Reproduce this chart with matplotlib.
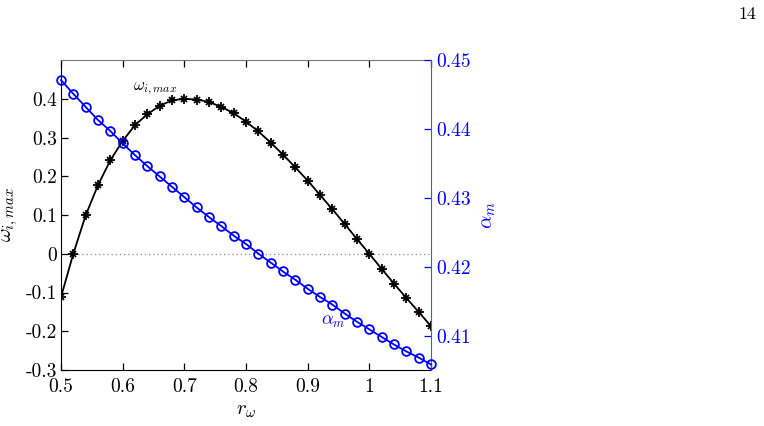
import matplotlib
matplotlib.use("Agg")
import matplotlib.pyplot as plt
import numpy as np

plt.rcParams['font.family'] = ['cmr10', 'DejaVu Serif']
plt.rcParams['mathtext.fontset'] = 'cm'
plt.rcParams['axes.unicode_minus'] = False

r_omega = [0.50, 0.52, 0.54, 0.56, 0.58, 0.60, 0.62, 0.64, 0.66, 0.68, 0.70,
           0.72, 0.74, 0.76, 0.78, 0.80, 0.82, 0.84, 0.86, 0.88, 0.90,
           0.92, 0.94, 0.96, 0.98, 1.00, 1.02, 1.04, 1.06, 1.08, 1.10]
omega_imax = [-0.112, 0.000, 0.099, 0.177, 0.241, 0.291, 0.332, 0.360, 0.382, 0.396, 0.400,
              0.398, 0.392, 0.379, 0.363, 0.341, 0.316, 0.287, 0.256, 0.223, 0.189,
              0.152, 0.115, 0.077, 0.038, 0.000, -0.039, -0.077, -0.114, -0.150, -0.187]
alpha_m = [0.4471, 0.4451, 0.4432, 0.4413, 0.4397, 0.4379, 0.4362, 0.4346, 0.4331, 0.4316, 0.4301,
           0.4286, 0.4272, 0.4259, 0.4245, 0.4233, 0.4219, 0.4206, 0.4193, 0.4181, 0.4168,
           0.4156, 0.4145, 0.4132, 0.4120, 0.4109, 0.4098, 0.4087, 0.4077, 0.4068, 0.4058]

x_ticks = [0.5, 0.6, 0.7, 0.8, 0.9, 1.0, 1.1]
x_ticklabels = ['0.5', '0.6', '0.7', '0.8', '0.9', '1', '1.1']
yl_ticks = [-0.3, -0.2, -0.1, 0.0, 0.1, 0.2, 0.3, 0.4]
yl_ticklabels = ['-0.3', '-0.2', '-0.1', '0', '0.1', '0.2', '0.3', '0.4']
yr_ticks = [0.41, 0.42, 0.43, 0.44, 0.45]
yr_ticklabels = ['0.41', '0.42', '0.43', '0.44', '0.45']

blue = '#0000ff'
fig = plt.figure(figsize=(7.64, 4.26), dpi=100)
ax = fig.add_axes([0.0798, 0.1315, 0.4843, 0.7275])
ax.set_xlim(0.5, 1.1)
ax.set_ylim(-0.3, 0.5)
ax.axhline(0, color='#999999', lw=1.0, ls=(0, (1, 2)), zorder=1)
ax.plot(r_omega, omega_imax, color='black', lw=1.3, zorder=3)
ax.plot(r_omega, omega_imax, ls='none', marker='+', ms=6.5, mec='black', mew=1.3, zorder=4)
ax.plot(r_omega, omega_imax, ls='none', marker='x', ms=5, mec='black', mew=1.3, zorder=4)
ax.set_xticks(x_ticks)
ax.set_xticklabels(x_ticklabels)
ax.set_yticks(yl_ticks)
ax.set_yticklabels(yl_ticklabels)
ax.tick_params(direction='in', length=5, labelsize=14, top=True, right=False, width=0.9)
ax.tick_params(axis='x', pad=6)
ax.tick_params(axis='y', pad=3)
for s in ['left', 'bottom']:
    ax.spines[s].set_color('black')
ax.spines['top'].set_color('#777777')
ax.spines['right'].set_visible(False)
ax.set_xlabel(r'$r_\omega$', fontsize=15)
ax.xaxis.set_label_coords(0.5, -0.105)
ax.set_ylabel(r'$\omega_{i,max}$', fontsize=15)
ax.yaxis.set_label_coords(-0.11, 0.5)
ax.text(0.653, 0.425, r'$\omega_{i,max}$', fontsize=12, ha='center', va='center')

ax2 = ax.twinx()
ax2.set_ylim(0.405, 0.45)
ax2.plot(r_omega, alpha_m, color=blue, lw=1.3, marker='o', ms=6.3, mfc='none', mec=blue, mew=1.3, zorder=3, clip_on=False)
ax2.set_yticks(yr_ticks)
ax2.set_yticklabels(yr_ticklabels)
ax2.tick_params(direction='in', length=5, labelsize=14, colors=blue, width=0.9, pad=4)
ax2.spines['right'].set_color('#4d4dff')
for s in ['left', 'top', 'bottom']:
    ax2.spines[s].set_visible(False)
ax2.set_ylabel(r'$\alpha_m$', fontsize=15, color=blue)
ax2.yaxis.set_label_coords(1.133, 0.5)
ax2.text(0.941, 0.4119, r'$\alpha_m$', fontsize=13, color=blue, ha='center', va='center')

fig.text(0.99, 0.985, '14', fontsize=13, ha='right', va='top')

fig.savefig('out.png', dpi=100)
